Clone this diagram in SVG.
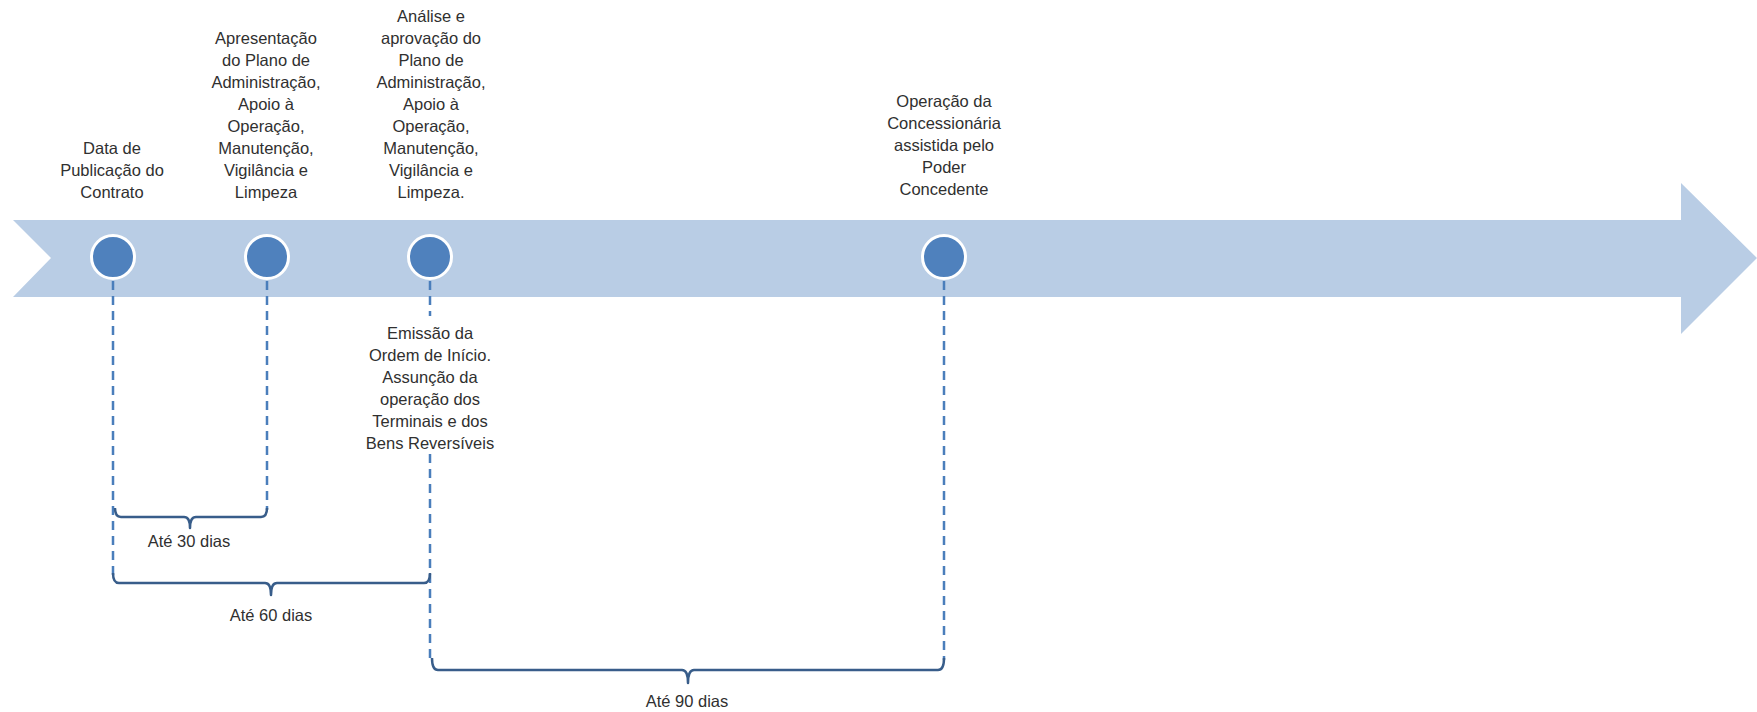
<svg xmlns="http://www.w3.org/2000/svg" width="1757" height="712" viewBox="0 0 1757 712">
<style>
text{font-family:"Liberation Sans",Arial,sans-serif;font-size:16.5px;fill:#303030;text-anchor:middle}
.dot{fill:#4F81BD;stroke:#fff;stroke-width:3}
.dash{stroke:#4A7EBB;stroke-width:2.5;stroke-dasharray:9 6;fill:none}
.brace{stroke:#385D8A;stroke-width:2.5;fill:none;stroke-linejoin:round}
</style>
<rect width="1757" height="712" fill="#fff"/>
<g id="timeline">
<path d="M13,220 H1681 V183 L1757,258 L1681,334 V297 H13 L51,258 Z" fill="#B9CDE5"/>
</g>
<g id="connectors">
<line class="dash" x1="113" y1="281" x2="113" y2="575"/>
<line class="dash" x1="267" y1="281" x2="267" y2="510"/>
<line class="dash" x1="430" y1="281" x2="430" y2="316"/>
<line class="dash" x1="430" y1="454" x2="430" y2="660"/>
<line class="dash" x1="944" y1="281" x2="944" y2="660"/>
<path class="brace" d="M115,508 Q115,517 121,517 H184 Q190,517 190,528 Q190,517 196,517 H261 Q267,517 267,508"/>
<path class="brace" d="M113,573 Q113,583 119,583 H265 Q271,583 271,595 Q271,583 277,583 H424 Q430,583 430,573"/>
<path class="brace" d="M432,658 Q432,670 438,670 H682 Q688,670 688,683 Q688,670 694,670 H938 Q944,670 944,658"/>
</g>
<g id="node1">
<circle class="dot" cx="113" cy="257" r="21.5"/>
<text x="112" y="154">Data de</text>
<text x="112" y="176">Publicação do</text>
<text x="112" y="198">Contrato</text>
</g>
<g id="node2">
<circle class="dot" cx="267" cy="257" r="21.5"/>
<text x="266" y="44">Apresentação</text>
<text x="266" y="66">do Plano de</text>
<text x="266" y="88">Administração,</text>
<text x="266" y="110">Apoio à</text>
<text x="266" y="132">Operação,</text>
<text x="266" y="154">Manutenção,</text>
<text x="266" y="176">Vigilância e</text>
<text x="266" y="198">Limpeza</text>
</g>
<g id="node3">
<circle class="dot" cx="430" cy="257" r="21.5"/>
<text x="431" y="22">Análise e</text>
<text x="431" y="44">aprovação do</text>
<text x="431" y="66">Plano de</text>
<text x="431" y="88">Administração,</text>
<text x="431" y="110">Apoio à</text>
<text x="431" y="132">Operação,</text>
<text x="431" y="154">Manutenção,</text>
<text x="431" y="176">Vigilância e</text>
<text x="431" y="198">Limpeza.</text>
</g>
<g id="node3b">
<text x="430" y="339">Emissão da</text>
<text x="430" y="361">Ordem de Início.</text>
<text x="430" y="383">Assunção da</text>
<text x="430" y="405">operação dos</text>
<text x="430" y="427">Terminais e dos</text>
<text x="430" y="449">Bens Reversíveis</text>
</g>
<g id="node4">
<circle class="dot" cx="944" cy="257" r="21.5"/>
<text x="944" y="107">Operação da</text>
<text x="944" y="129">Concessionária</text>
<text x="944" y="151">assistida pelo</text>
<text x="944" y="173">Poder</text>
<text x="944" y="195">Concedente</text>
</g>
<g id="labels">
<text x="189" y="547">Até 30 dias</text>
<text x="271" y="621">Até 60 dias</text>
<text x="687" y="707">Até 90 dias</text>
</g>
</svg>
